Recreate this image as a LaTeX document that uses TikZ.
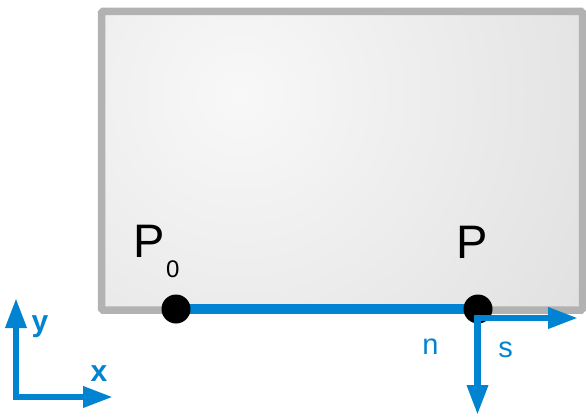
\documentclass[tikz,border=0pt]{standalone}
\usepackage{fontspec}
\setmainfont{Liberation Sans}
\usepackage{tikz}
\usetikzlibrary{arrows.meta,positioning}
\usepackage{xcolor}
\definecolor{vblue}{RGB}{0,132,209}
\definecolor{framegray}{RGB}{178,178,178}
\definecolor{fillhi}{RGB}{248,248,248}
\definecolor{filllo}{RGB}{204,204,204}
\tikzset{
  board/.style={draw=framegray, line width=7.5pt, rounded corners=1.5pt},
  edge/.style={draw=vblue, line width=10pt},
  joint/.style={circle, fill=black, minimum size=29pt, inner sep=0pt},
  vec/.style={{Triangle[length=30pt,width=20pt]}-{Triangle[length=30pt,width=20pt]}, draw=vblue, line width=6.5pt, line join=miter},
  lbl/.style={font=\fontsize{47}{47}\selectfont, inner sep=0pt, anchor=base west},
  ax/.style={text=vblue, font=\bfseries\fontsize{30}{30}\selectfont, inner sep=0pt},
  dir/.style={text=vblue, font=\fontsize{29}{29}\selectfont, inner sep=0pt},
}

\begin{document}
\begin{tikzpicture}[x=1pt,y=-1pt]
  \useasboundingbox (0,0) rectangle (586,417);
  % plate
  \begin{scope}
    \clip (101.5,11.5) rectangle (582.5,310);
    \shade[inner color=fillhi, outer color=filllo] (240,95) circle (760);
  \end{scope}
  \draw[board] (101.5,11.5) rectangle (582.5,310);
  % boundary segment
  \coordinate (p0) at (176,309);
  \coordinate (p) at (478,309);
  \draw[edge] (p0) -- (p);
  \node[joint] (dot0) at (p0) {};
  \node[joint] (dot1) at (p) {};
  \node[lbl] (lp0) at (133,257) {P\kern1.5pt\raisebox{-20pt}{\fontsize{24}{24}\selectfont 0}};
  \node[lbl] (lp) at (455.8,258) {P};
  % local frame at P
  \coordinate (pc) at (477.5,318);
  \coordinate (send) at (578,318);
  \coordinate (nend) at (477.5,415);
  \draw[vec] (send) -- (pc) -- (nend);
  \node[dir] (ln) at (430.5,346.5) {n};
  \node[dir] (ls) at (505.5,349.5) {s};
  % global axes
  \coordinate (o) at (16,397);
  \coordinate (xend) at (113,397);
  \coordinate (yend) at (16,298);
  \draw[vec] (yend) -- (o) -- (xend);
  \node[ax] (lx) at (99,374) {x};
  \node[ax] (ly) at (40,326.5) {y};
\end{tikzpicture}
\end{document}
